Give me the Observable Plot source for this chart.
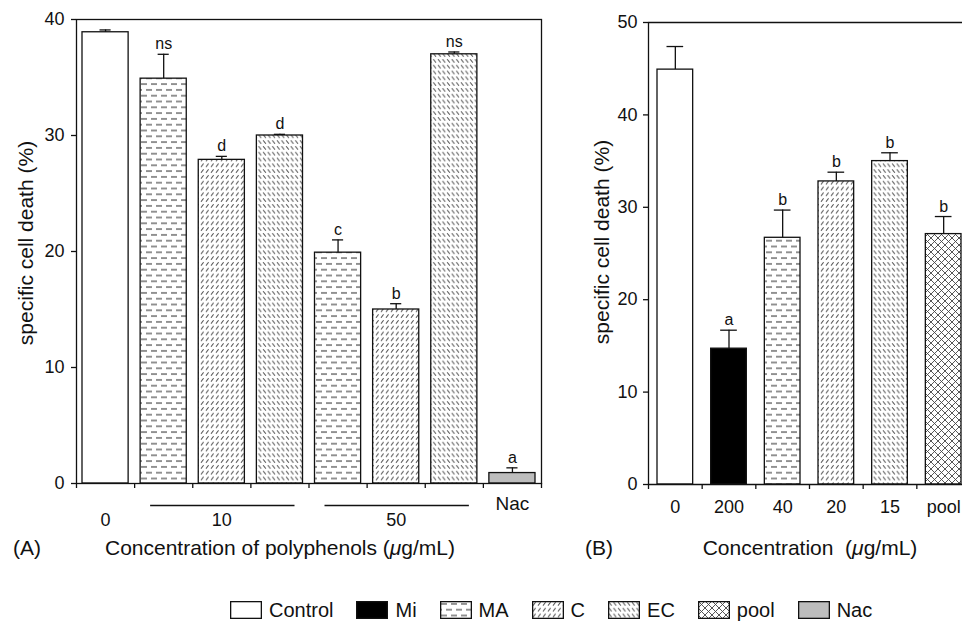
<!DOCTYPE html>
<html><head><meta charset="utf-8">
<script src="https://cdn.jsdelivr.net/npm/d3@7"></script>
<script src="https://cdn.jsdelivr.net/npm/@observablehq/plot@0.6"></script>
<style>
body{margin:0;background:#fff;font-family:"Liberation Sans",Arial,sans-serif;color:#111}
#chart{position:relative;width:962px;height:621px;overflow:hidden;background:#fff}
#A,#B{position:absolute;top:0}
#A{left:0}#B{left:560px}
.t{position:absolute;font-size:21px;white-space:nowrap;line-height:1}
.rot{transform:translate(-50%,-50%) rotate(-90deg)}
.ctr{transform:translate(-50%,-50%)}
.lab{transform:translate(0,-50%)}
#legend{position:absolute;left:230px;top:600px;display:flex;align-items:center;font-size:20px;line-height:1}
.item{display:flex;align-items:center;margin-right:23px}
.item svg{margin-right:7px;display:block}
</style></head>
<body>
<svg width="0" height="0" style="position:absolute">
<defs>
<pattern id="pat-MA" patternUnits="userSpaceOnUse" width="10" height="11.6">
<rect width="10" height="11.6" fill="#fff"/>
<path d="M1,2.9H7M6,8.7H12M-4,8.7H2" stroke="#222" stroke-width="1.2"/>
</pattern>
<pattern id="pat-C" patternUnits="userSpaceOnUse" width="5" height="5.8">
<rect width="5" height="5.8" fill="#fff"/>
<path d="M1,4.6L3.6,1.2" stroke="#444" stroke-width="1"/>
</pattern>
<pattern id="pat-EC" patternUnits="userSpaceOnUse" width="4.6" height="5.8">
<rect width="4.6" height="5.8" fill="#fff"/>
<path d="M1,1.2L3.6,4.6" stroke="#444" stroke-width="1"/>
</pattern>
<pattern id="pat-pool" patternUnits="userSpaceOnUse" width="7" height="7">
<rect width="7" height="7" fill="#fff"/>
<path d="M0,0L7,7M7,0L0,7" stroke="#444" stroke-width="0.9"/>
</pattern>
</defs>
</svg>
<div id="chart">
  <div id="A"></div>
  <div id="B"></div>
  <div class="t rot" style="left:25px;top:243px">specific cell death (%)</div>
  <div class="t lab" style="left:13px;top:547px">(A)</div>
  <div class="t ctr" style="left:280px;top:547px">Concentration of polyphenols (<i>μ</i>g/mL)</div>
  <div class="t rot" style="left:601px;top:242px">specific cell death (%)</div>
  <div class="t lab" style="left:585px;top:547px">(B)</div>
  <div class="t ctr" style="left:810px;top:547px">Concentration&nbsp; (<i>μ</i>g/mL)</div>
  <div id="legend"></div>
</div>
<script>
// ---- Panel A data ----
const catsA = ["Control", "MA", "C", "EC", "MA", "C", "EC", "Nac"];
const concA = ["0", "10", "10", "10", "50", "50", "50", "Nac"];
const valuesA = [38.9, 34.9, 27.9, 30.0, 19.9, 15.0, 37.0, 0.9];
const errorsA = [0.2, 2.1, 0.3, 0.1, 1.1, 0.5, 0.2, 0.45];
const lettersA = ["", "ns", "d", "d", "c", "b", "ns", "a"];
const yTicksA = [0, 10, 20, 30, 40];

// ---- Panel B data ----
const catsB = ["Control", "Mi", "MA", "C", "EC", "pool"];
const concB = ["0", "200", "40", "20", "15", "pool"];
const valuesB = [44.9, 14.7, 26.7, 32.8, 35.0, 27.1];
const errorsB = [2.5, 2.0, 3.0, 1.0, 0.9, 1.9];
const lettersB = ["", "a", "b", "b", "b", "b"];
const yTicksB = [0, 10, 20, 30, 40, 50];

// ---- Legend ----
const legendItems = ["Control", "Mi", "MA", "C", "EC", "pool", "Nac"];
const fillOf = {Control: "#ffffff", Mi: "#000000", MA: "url(#pat-MA)", C: "url(#pat-C)",
  EC: "url(#pat-EC)", pool: "url(#pat-pool)", Nac: "#bdbdbd"};

const FONT = "'Liberation Sans', Arial, sans-serif";
const SW = 1.3;

function rowsOf(cats, conc, vals, errs, letters) {
  return cats.map((g, i) => ({i, g, conc: conc[i], v: vals[i], e: errs[i], top: vals[i] + errs[i], letter: letters[i]}));
}
function barMarks(rows, inset, capInset) {
  const groups = Array.from(new Set(rows.map(d => d.g)));
  return [
    ...groups.map(g => Plot.rect(rows.filter(d => d.g === g), {
      x1: d => d.i, x2: d => d.i + 1, y1: 0, y2: "v",
      fill: fillOf[g], stroke: "#111", strokeWidth: SW, insetLeft: inset, insetRight: inset
    })),
    Plot.ruleX(rows, {x: d => d.i + 0.5, y1: "v", y2: "top", stroke: "#111", strokeWidth: SW}),
    Plot.ruleY(rows, {x1: d => d.i, x2: d => d.i + 1, y: "top", insetLeft: capInset, insetRight: capInset, stroke: "#111", strokeWidth: SW}),
    Plot.text(rows.filter(d => d.letter), {x: d => d.i + 0.5, y: "top", text: "letter", dy: -5, lineAnchor: "bottom", fontSize: 16, fill: "#111"})
  ];
}

const rowsA = rowsOf(catsA, concA, valuesA, errorsA, lettersA);
const rowsB = rowsOf(catsB, concB, valuesB, errorsB, lettersB);

// concentration groups of panel A (runs of equal labels)
const groupsA = [];
concA.forEach((c, i) => {
  const last = groupsA[groupsA.length - 1];
  if (last && last.label === c) { last.end = i + 1; last.n++; }
  else groupsA.push({label: c, start: i, end: i + 1, n: 1});
});
groupsA.forEach(g => g.mid = (g.start + g.end) / 2);
const numericGroups = groupsA.filter(g => !isNaN(+g.label));
const namedGroups = groupsA.filter(g => isNaN(+g.label));

const style = {fontFamily: FONT, fontSize: "18px", color: "#111", background: "transparent", overflow: "visible"};

const plotA = Plot.plot({
  width: 560, height: 560,
  marginLeft: 76, marginRight: 19, marginTop: 19, marginBottom: 77,
  x: {domain: [0, catsA.length], axis: null},
  y: {domain: [0, 40], axis: null},
  style,
  marks: [
    ...barMarks(rowsA, 6, 23.5),
    Plot.frame({stroke: "#111", strokeWidth: SW}),
    Plot.axisY({ticks: yTicksA, tickSize: 5, tickPadding: 7, fontSize: 18, strokeWidth: SW}),
    Plot.axisX({ticks: d3.range(catsA.length + 1), tickSize: 5, tickFormat: () => "", strokeWidth: SW}),
    Plot.ruleY(numericGroups.filter(g => g.n > 1), {x1: "start", x2: "end", y: 0, dy: 22, insetLeft: 16, insetRight: 14, stroke: "#111", strokeWidth: SW}),
    Plot.text(numericGroups, {x: "mid", text: "label", frameAnchor: "bottom", dy: 37, lineAnchor: "middle", fontSize: 18, fill: "#111"}),
    Plot.text(namedGroups, {x: "mid", text: "label", frameAnchor: "bottom", dy: 20, lineAnchor: "middle", fontSize: 19, fill: "#111"})
  ]
});
document.getElementById("A").append(plotA);

const plotB = Plot.plot({
  width: 402, height: 560,
  marginLeft: 88, marginRight: 0, marginTop: 22, marginBottom: 76,
  x: {domain: [0, catsB.length], range: [88, 410], axis: null},
  y: {domain: [0, 50], axis: null},
  style,
  marks: [
    ...barMarks(rowsB, 9, 18.5),
    Plot.ruleY([d3.max(yTicksB)], {stroke: "#111", strokeWidth: SW}),
    Plot.ruleY([0], {stroke: "#111", strokeWidth: SW}),
    Plot.ruleX([0], {stroke: "#111", strokeWidth: SW}),
    Plot.axisY({ticks: yTicksB, tickSize: 5, tickPadding: 6, fontSize: 18, strokeWidth: SW}),
    Plot.axisX({ticks: d3.range(catsB.length), tickSize: 5, tickFormat: () => "", strokeWidth: SW}),
    Plot.text(rowsB, {x: d => d.i + 0.5, text: "conc", frameAnchor: "bottom", dy: 23, lineAnchor: "middle", fontSize: 18, fill: "#111"})
  ]
});
document.getElementById("B").append(plotB);

// legend
const legend = d3.select("#legend");
legendItems.forEach(g => {
  const it = legend.append("div").attr("class", "item");
  const s = it.append("svg").attr("width", 32).attr("height", 18);
  s.append("rect").attr("x", 0.65).attr("y", 0.65).attr("width", 30.7).attr("height", 16.7)
    .attr("fill", fillOf[g]).attr("stroke", "#111").attr("stroke-width", SW);
  it.append("span").text(g);
});
</script>
</body></html>
